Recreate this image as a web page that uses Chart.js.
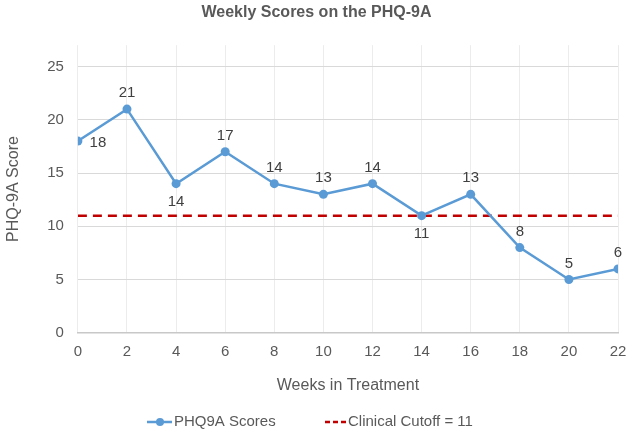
<!DOCTYPE html>
<html>
<head>
<meta charset="utf-8">
<script src="https://cdn.jsdelivr.net/npm/chart.js@4.4.1/dist/chart.umd.min.js"></script>
<style>
  html, body { margin: 0; padding: 0; background: #fff; }
  #wrap { width: 630px; height: 431px; }
</style>
</head>
<body>
<div id="wrap"><canvas id="chart"></canvas></div>
<script>
const weeks   = [0, 2, 4, 6, 8, 10, 12, 14, 16, 18, 20, 22];
const scores  = [18, 21, 14, 17, 14, 13, 14, 11, 13, 8, 5, 6];
const cutoff  = 11;
const yTicks  = [0, 5, 10, 15, 20, 25];
const labelSide = ["right","above","below","above","above","above","above","below","above","above","above","above"];

const FONT = "'Liberation Sans', Arial, sans-serif";
const GRAY = "#595959";
const BLUE = "#5B9BD5";
const RED  = "#C00000";

// value labels next to each point
const pointLabels = {
  id: "pointLabels",
  afterDatasetsDraw(chart) {
    const ctx = chart.ctx;
    const meta = chart.getDatasetMeta(0);
    ctx.save();
    ctx.font = "15px " + FONT;
    ctx.fillStyle = "#404040";
    ctx.textAlign = "center";
    ctx.textBaseline = "middle";
    meta.data.forEach((pt, i) => {
      let x = pt.x, y = pt.y;
      if (labelSide[i] === "above") y -= 16;
      else if (labelSide[i] === "below") y += 18;
      else { x += 20; y += 2; }
      ctx.fillText(String(scores[i]), x, y);
    });
    ctx.restore();
  }
};

// legend drawn at the bottom
const bottomLegend = {
  id: "bottomLegend",
  afterDraw(chart) {
    const ctx = chart.ctx;
    const y = chart.height - 9;
    ctx.save();
    ctx.lineWidth = 2.5;
    ctx.strokeStyle = BLUE;
    ctx.beginPath(); ctx.moveTo(147, y); ctx.lineTo(172, y); ctx.stroke();
    ctx.fillStyle = BLUE;
    ctx.beginPath(); ctx.arc(160, y, 4, 0, Math.PI * 2); ctx.fill();
    ctx.font = "15px " + FONT;
    ctx.fillStyle = GRAY;
    ctx.textBaseline = "middle";
    ctx.fillText("PHQ9A Scores", 174, y);
    ctx.strokeStyle = RED;
    ctx.setLineDash([5, 3]);
    ctx.beginPath(); ctx.moveTo(325, y); ctx.lineTo(346, y); ctx.stroke();
    ctx.setLineDash([]);
    ctx.fillText("Clinical Cutoff = 11", 348, y);
    ctx.restore();
  }
};

new Chart(document.getElementById("chart"), {
  type: "line",
  data: {
    datasets: [
      {
        label: "PHQ9A Scores",
        data: weeks.map((w, i) => ({ x: w, y: scores[i] })),
        borderColor: BLUE,
        backgroundColor: BLUE,
        borderWidth: 2.5,
        pointRadius: 4.5,
        pointBorderWidth: 0,
        tension: 0
      },
      {
        label: "Clinical Cutoff = 11",
        data: [{ x: weeks[0], y: cutoff }, { x: weeks[weeks.length - 1], y: cutoff }],
        borderColor: RED,
        borderWidth: 2.5,
        borderDash: [9, 6],
        pointRadius: 0
      }
    ]
  },
  options: {
    responsive: true,
    maintainAspectRatio: false,
    animation: false,
    layout: { padding: { left: 4, right: 1, top: 0, bottom: 36 } },
    plugins: {
      legend: { display: false },
      tooltip: { enabled: false },
      title: {
        display: true,
        text: "Weekly Scores on the PHQ-9A",
        color: GRAY,
        font: { family: FONT, size: 16, weight: "bold" },
        padding: { top: 3, bottom: 23 }
      }
    },
    scales: {
      x: {
        type: "linear",
        min: 0,
        max: 22,
        afterFit: s => { s.paddingRight = 12; },
        ticks: { stepSize: 2, color: GRAY, font: { family: FONT, size: 15 }, padding: 10 },
        grid: { color: "#ececec", drawTicks: false },
        border: { color: "#c8c8c8", width: 1.5 },
        title: {
          display: true,
          text: "Weeks in Treatment",
          color: GRAY,
          font: { family: FONT, size: 16 },
          padding: { top: 5, bottom: 0 }
        }
      },
      y: {
        min: 0,
        max: 27,
        afterBuildTicks: s => { s.ticks = yTicks.map(v => ({ value: v })); },
        ticks: { color: GRAY, font: { family: FONT, size: 15 }, padding: 14 },
        grid: { color: "#d9d9d9", drawTicks: false },
        border: { display: false },
        title: {
          display: true,
          text: "PHQ-9A Score",
          color: GRAY,
          font: { family: FONT, size: 16 },
          padding: { top: 0, bottom: 10 }
        }
      }
    }
  },
  plugins: [pointLabels, bottomLegend]
});
</script>
</body>
</html>
